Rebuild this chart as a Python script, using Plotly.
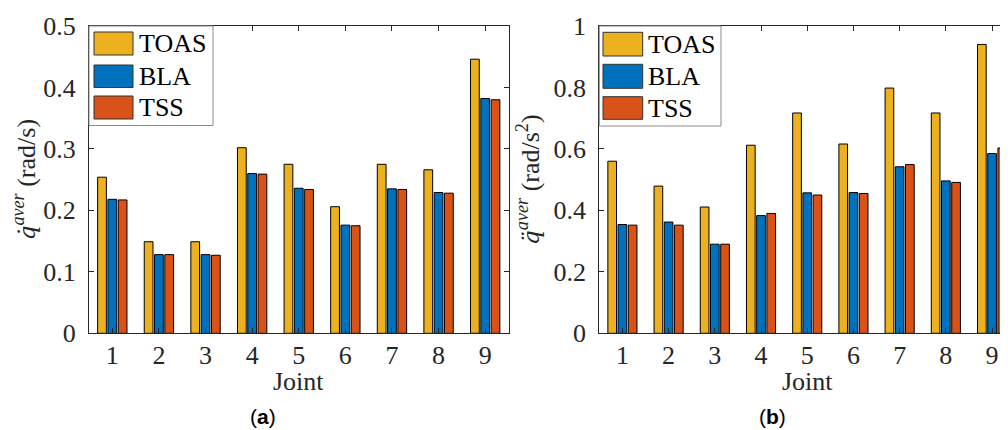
import plotly.graph_objects as go

# ---------------- data ----------------
joints = [1, 2, 3, 4, 5, 6, 7, 8, 9]
series_names = ["TOAS", "BLA", "TSS"]
series_colors = ["#EDB120", "#0072BD", "#D95319"]

vel_toas = [0.254, 0.149, 0.149, 0.302, 0.275, 0.206, 0.275, 0.266, 0.446]
vel_bla = [0.218, 0.128, 0.128, 0.260, 0.236, 0.176, 0.235, 0.229, 0.382]
vel_tss = [0.217, 0.128, 0.127, 0.259, 0.234, 0.175, 0.234, 0.228, 0.380]

acc_toas = [0.560, 0.479, 0.411, 0.612, 0.717, 0.616, 0.798, 0.717, 0.940]
acc_bla = [0.354, 0.362, 0.290, 0.383, 0.457, 0.458, 0.542, 0.496, 0.585]
acc_tss = [0.352, 0.352, 0.290, 0.390, 0.450, 0.455, 0.549, 0.491, 0.603]

vel_ticks = [0, 0.1, 0.2, 0.3, 0.4, 0.5]
acc_ticks = [0, 0.2, 0.4, 0.6, 0.8, 1]

# ---------------- layout helpers ----------------
# The page body has an 8px margin, so the figure is 8px smaller and
# window-pixel positions are converted with that offset.
OFF = 8
W, H = 1008 - OFF, 430 - OFF
def px(x):
    return (x - OFF) / W
def py(y):
    return 1 - (y - OFF) / H

FONT = "Liberation Serif"
TXT = "#262626"
AX = "#262626"

fig = go.Figure()

for vals, name, col in zip([vel_toas, vel_bla, vel_tss], series_names, series_colors):
    fig.add_trace(go.Bar(x=joints, y=vals, name=name, xaxis="x", yaxis="y",
                         marker=dict(color=col, line=dict(color="#000000", width=1)),
                         showlegend=False))
for vals, name, col in zip([acc_toas, acc_bla, acc_tss], series_names, series_colors):
    fig.add_trace(go.Bar(x=joints, y=vals, name=name, xaxis="x2", yaxis="y2",
                         marker=dict(color=col, line=dict(color="#000000", width=1)),
                         showlegend=False))

ydom = [py(333.3), py(26)]
common_x = dict(tickmode="array", tickvals=joints, ticktext=[str(j) for j in joints],
                ticks="inside", ticklen=5, tickcolor=AX, showline=True, linecolor=AX,
                linewidth=1, showgrid=False, zeroline=False, automargin=False,
                tickfont=dict(family=FONT, size=26, color=TXT), ticklabelstandoff=-2)
common_y = dict(ticks="inside", ticklen=5, tickcolor=AX, showline=True, linecolor=AX,
                linewidth=1, showgrid=False, zeroline=False, automargin=False,
                tickfont=dict(family=FONT, size=26, color=TXT), ticklabelstandoff=7)

QDOT = "<span style=\"font-family:'DejaVu Serif';font-size:23px\"><i>q\u0307</i></span>"
QDDOT = "<span style=\"font-family:'DejaVu Serif';font-size:23px\"><i>q\u0308</i></span>"

fig.update_layout(
    width=W, height=H, margin=dict(l=0, r=0, t=0, b=0, autoexpand=False),
    font=dict(family=FONT, size=26, color=TXT),
    paper_bgcolor="white", plot_bgcolor="white",
    barmode="group", bargap=0.337, bargroupgap=0.15,
    xaxis=dict(domain=[px(89), px(508.5)], range=[0.5, 9.5], anchor="y", mirror="ticks", **common_x),
    yaxis=dict(domain=ydom, range=[0, 0.5], anchor="x", mirror="ticks",
               tickvals=vel_ticks, ticktext=[("%g" % v) for v in vel_ticks],
               title=dict(text=QDOT + "<sup><i>aver</i></sup> (rad/s)",
                          font=dict(family=FONT, size=26, color=TXT), standoff=6),
               **common_y),
    xaxis2=dict(domain=[px(599.3), 1.0], range=[0.5, 9.345], anchor="y2", mirror="ticks", **common_x),
    yaxis2=dict(domain=ydom, range=[0, 1.0], anchor="x2", mirror=False,
                tickvals=acc_ticks, ticktext=[("%g" % v) for v in acc_ticks],
                title=dict(text=QDDOT + "<sup><i>aver</i></sup> (rad/s<sup>2</sup>)",
                           font=dict(family=FONT, size=26, color=TXT), standoff=6),
                **common_y),
)

# ---------------- legends (MATLAB style, wide patches) ----------------
shapes = []
annotations = []
legend_specs = [
    dict(box=(89, 213, 26, 125.5), patch_x=(94, 133), rows=[(32, 55), (65, 87.5), (96, 119)], text_x=137),
    dict(box=(599.3, 721, 26, 126), patch_x=(603, 642.7), rows=[(32.3, 56), (64.3, 88.3), (96.7, 119.3)], text_x=646),
]
for spec in legend_specs:
    bx0, bx1, by0, by1 = spec["box"]
    shapes.append(dict(type="rect", xref="paper", yref="paper", layer="above",
                       x0=px(bx0), x1=px(bx1), y0=py(by1), y1=py(by0),
                       fillcolor="white", line=dict(color="#8a8a8a", width=1)))
    for (r0, r1), name, col in zip(spec["rows"], series_names, series_colors):
        shapes.append(dict(type="rect", xref="paper", yref="paper", layer="above",
                           x0=px(spec["patch_x"][0]), x1=px(spec["patch_x"][1]),
                           y0=py(r1), y1=py(r0), fillcolor=col,
                           line=dict(color="#333333", width=1)))
        annotations.append(dict(xref="paper", yref="paper", x=px(spec["text_x"]), y=py((r0 + r1) / 2),
                                text=name, showarrow=False, xanchor="left", yanchor="middle",
                                font=dict(family=FONT, size=26, color="#000000")))

# x-axis titles
for xr in ["x", "x2"]:
    annotations.append(dict(xref=xr, yref="paper", x=5, y=py(381), text="Joint",
                            showarrow=False, xanchor="center", yanchor="middle",
                            font=dict(family=FONT, size=26, color=TXT)))

# sub-captions
annotations.append(dict(xref="paper", yref="paper", x=px(263), y=py(416), text="(<b>a</b>)",
                        showarrow=False, xanchor="center", yanchor="middle",
                        font=dict(family="Liberation Sans", size=21, color="#000000")))
annotations.append(dict(xref="paper", yref="paper", x=px(772), y=py(416), text="(<b>b</b>)",
                        showarrow=False, xanchor="center", yanchor="middle",
                        font=dict(family="Liberation Sans", size=21, color="#000000")))

fig.update_layout(shapes=shapes, annotations=annotations)

fig.write_html("out.html")
